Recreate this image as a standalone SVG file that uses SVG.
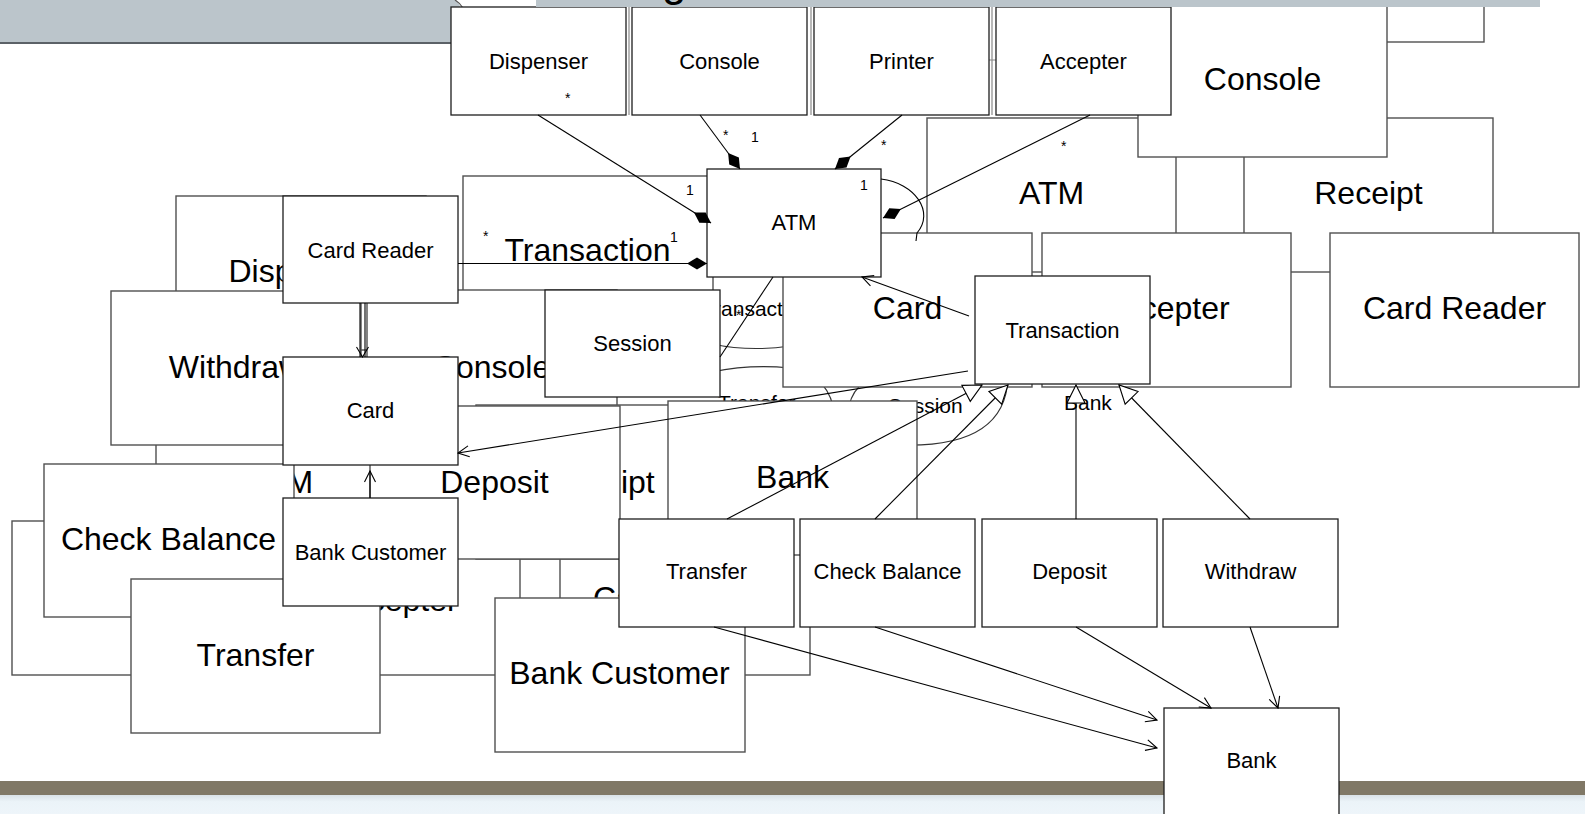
<svg xmlns="http://www.w3.org/2000/svg" width="1585" height="814" viewBox="0 0 1585 814">
  <style>
    .s { fill: #fff; stroke: #1e1e1e; stroke-width: 1.3; }
    .L { fill: #fff; stroke: #505050; stroke-width: 1.4; }
    text { font-family: "Liberation Sans", Arial, sans-serif; fill: #000; }
    .ts { font-size: 22px; text-anchor: middle; }
    .tl { font-size: 32px; text-anchor: middle; }
    .lbl { font-size: 21px; }
    .m { font-size: 14px; }
    .c { fill: none; stroke: #000; stroke-width: 1.1; }
    .bg { fill: none; stroke: #333; stroke-width: 1.1; }
    .faint { fill: none; stroke: #8a8a8a; stroke-width: 1.2; }
  </style>
  <defs>
    <marker id="arrow" viewBox="-13 -7 14 14" refX="0" refY="0" markerWidth="14" markerHeight="14" markerUnits="userSpaceOnUse" orient="auto">
      <path d="M-11,-5.5 L0,0 L-11,5.5" fill="none" stroke="#000" stroke-width="1.1"/>
    </marker>
    <marker id="diamond" viewBox="-21 -7 22 14" refX="0" refY="0" markerWidth="22" markerHeight="14" markerUnits="userSpaceOnUse" orient="auto">
      <path d="M0,0 L-10,-6 L-20,0 L-10,6 Z" fill="#000"/>
    </marker>
    <marker id="tri" viewBox="-20 -11 21 22" refX="0" refY="0" markerWidth="21" markerHeight="22" markerUnits="userSpaceOnUse" orient="auto">
      <path d="M0,0 L-18,-9 L-18,9 Z" fill="#fff" stroke="#000" stroke-width="1.1"/>
    </marker>
    <linearGradient id="foot" x1="0" y1="0" x2="0" y2="1">
      <stop offset="0" stop-color="#d9e1e6"/>
      <stop offset="0.35" stop-color="#ebf3f8"/>
      <stop offset="1" stop-color="#eef5fa"/>
    </linearGradient>
  </defs>

  <rect x="0" y="0" width="1585" height="814" fill="#fff"/>

  <!-- slide header tab on the left -->
  <g id="header-tab">
    <path d="M0,0 H455 Q462,6 466,20 L466,43 H0 Z" fill="#bbc5cb"/>
    <path d="M0,43 H466" stroke="#5b6167" stroke-width="2"/>
    <path d="M455,0 Q460,3 463,8" fill="none" stroke="#555" stroke-width="1.2"/>
  </g>

  <!-- slide footer bands -->
  <g id="footer">
    <rect x="0" y="781" width="1585" height="14" fill="#807866"/>
    <rect x="0" y="795" width="1585" height="19" fill="url(#foot)"/>
  </g>

  <!-- background diagram: labels and arcs that sit behind its boxes -->
  <g id="bg-labels">
    <text class="lbl" x="702" y="316">Transaction</text>
    <text class="lbl" x="718" y="410">Transfer</text>
    <text class="lbl" x="888" y="413">Session</text>
    <text class="lbl" x="1064" y="410">Bank</text>
  </g>
  <g id="bg-connectors">
    <path class="bg" d="M712,344 Q750,352 790,346"/>
    <path class="bg" d="M712,372 Q750,364 790,368"/>
    <path class="bg" d="M816,378 Q829,389 833,406"/>
    <path class="bg" d="M849,406 Q852,391 866,380"/>
    <path class="bg" d="M900,445 C962,447 1006,430 1008,378"/>
    <path class="faint" d="M629,7 V115 M811,7 V115 M992,7 V115 M989,60 H996"/>
  </g>

  <!-- background diagram: large boxes, right part -->
  <g id="bg-atm"><rect class="L" x="927" y="118" width="249" height="154"/><text class="tl" x="1051.5" y="204">ATM</text></g>
  <g id="bg-receipt"><rect class="L" x="1244" y="118" width="249" height="154"/><text class="tl" x="1368.5" y="204">Receipt</text></g>
  <g id="bg-corner"><rect class="L" x="1235" y="-112" width="249" height="154"/></g>
  <g id="bg-console"><rect class="L" x="1138" y="3" width="249" height="154"/><text class="tl" x="1262.5" y="90">Console</text></g>
  <g id="bg-card"><rect class="L" x="783" y="233" width="249" height="154"/><text class="tl" x="907.5" y="319">Card</text></g>
  <g id="bg-accepter"><rect class="L" x="1042" y="233" width="249" height="154"/><text class="tl" x="1166.5" y="319">Accepter</text></g>
  <g id="bg-card-reader"><rect class="L" x="1330" y="233" width="249" height="154"/><text class="tl" x="1454.5" y="319">Card Reader</text></g>

  <!-- background diagram: large boxes, left part -->
  <g id="bg-left-edge"><rect class="L" x="12" y="521" width="250" height="154"/></g>
  <g id="bg-accepter-2"><rect class="L" x="270" y="521" width="250" height="154"/><text class="tl" x="394.5" y="611">Accepter</text></g>
  <g id="bg-card-reader-2"><rect class="L" x="560" y="521" width="250" height="154"/><text class="tl" x="684.5" y="609">Card Reader</text></g>
  <g id="bg-atm-2"><rect class="L" x="156" y="405" width="250" height="154"/><text class="tl" x="280.5" y="493">ATM</text></g>
  <g id="bg-dispenser"><rect class="L" x="176" y="196" width="250" height="154"/><text class="tl" x="300.5" y="282">Dispenser</text></g>
  <g id="bg-transaction"><rect class="L" x="463" y="176" width="250" height="154"/><text class="tl" x="587.5" y="261">Transaction</text></g>
  <g id="bg-withdraw"><rect class="L" x="111" y="291" width="250" height="154"/><text class="tl" x="235.5" y="378">Withdraw</text></g>
  <g id="bg-console-2"><rect class="L" x="367" y="290" width="250" height="154"/><text class="tl" x="491.5" y="378">Console</text></g>
  <g id="bg-receipt-2"><rect class="L" x="476" y="405" width="250" height="154"/><text class="tl" x="600.5" y="493">Receipt</text></g>
  <g id="bg-deposit"><rect class="L" x="370" y="406" width="250" height="153"/><text class="tl" x="494.5" y="493">Deposit</text></g>
  <g id="bg-bank"><rect class="L" x="668" y="401" width="249" height="154"/><text class="tl" x="792.5" y="488">Bank</text></g>
  <g id="bg-check-balance"><rect class="L" x="44" y="464" width="250" height="153"/><text class="tl" x="168.5" y="550">Check Balance</text></g>
  <g id="bg-transfer"><rect class="L" x="131" y="579" width="249" height="154"/><text class="tl" x="255.5" y="666">Transfer</text></g>
  <g id="bg-bank-customer"><rect class="L" x="495" y="598" width="250" height="154"/><text class="tl" x="619.5" y="684">Bank Customer</text></g>

  <!-- class nodes -->
  <g id="dispenser"><rect class="s" x="451" y="7" width="175" height="108"/><text class="ts" x="538.5" y="69">Dispenser</text></g>
  <g id="console"><rect class="s" x="632" y="7" width="175" height="108"/><text class="ts" x="719.5" y="69">Console</text></g>
  <g id="printer"><rect class="s" x="814" y="7" width="175" height="108"/><text class="ts" x="901.5" y="69">Printer</text></g>
  <g id="accepter"><rect class="s" x="996" y="7" width="175" height="108"/><text class="ts" x="1083.5" y="69">Accepter</text></g>
  <g id="atm"><rect class="s" x="707" y="169" width="174" height="108"/><text class="ts" x="794" y="230">ATM</text></g>
  <g id="card-reader"><rect class="s" x="283" y="196" width="175" height="107"/><text class="ts" x="370.5" y="258">Card Reader</text></g>
  <g id="session"><rect class="s" x="545" y="290" width="175" height="107"/><text class="ts" x="632.5" y="351">Session</text></g>
  <g id="card"><rect class="s" x="283" y="357" width="175" height="108"/><text class="ts" x="370.5" y="418">Card</text></g>
  <g id="transaction"><rect class="s" x="975" y="276" width="175" height="108"/><text class="ts" x="1062.5" y="338">Transaction</text></g>
  <g id="bank-customer"><rect class="s" x="283" y="498" width="175" height="108"/><text class="ts" x="370.5" y="560">Bank Customer</text></g>
  <g id="transfer"><rect class="s" x="619" y="519" width="175" height="108"/><text class="ts" x="706.5" y="579">Transfer</text></g>
  <g id="check-balance"><rect class="s" x="800" y="519" width="175" height="108"/><text class="ts" x="887.5" y="579">Check Balance</text></g>
  <g id="deposit"><rect class="s" x="982" y="519" width="175" height="108"/><text class="ts" x="1069.5" y="579">Deposit</text></g>
  <g id="withdraw"><rect class="s" x="1163" y="519" width="175" height="108"/><text class="ts" x="1250.5" y="579">Withdraw</text></g>
  <g id="bank"><rect class="s" x="1164" y="708" width="175" height="120"/><text class="ts" x="1251.5" y="768">Bank</text></g>

  <!-- associations, compositions and generalizations -->
  <g id="connectors">
    <path class="c" d="M538,115 L711,223" marker-end="url(#diamond)"/>
    <path class="c" d="M700,115 L740,169" marker-end="url(#diamond)"/>
    <path class="c" d="M902,115 L835,169" marker-end="url(#diamond)"/>
    <path class="c" d="M1090,115 L883,218" marker-end="url(#diamond)"/>
    <path class="c" d="M458,263.5 L707,263.5" marker-end="url(#diamond)"/>
    <path class="c" d="M881,179 C915,183 935,212 917,233 L916,241"/>

    <path class="c" d="M360,303 V357 M365,303 V357"/>
    <path class="c" d="M356.5,347 L362.5,357 L368.5,347"/>
    <path class="c" d="M370,498 L370,471" marker-end="url(#arrow)"/>
    <path class="c" d="M968,371 L458,453" marker-end="url(#arrow)"/>
    <path class="c" d="M969,316 L862,277" marker-end="url(#arrow)"/>
    <path class="c" d="M773,277 L720,357"/>

    <path class="c" d="M727,519 L982,385" marker-end="url(#tri)"/>
    <path class="c" d="M875,519 L1008,385" marker-end="url(#tri)"/>
    <path class="c" d="M1076,519 L1076,385" marker-end="url(#tri)"/>
    <path class="c" d="M1250,519 L1119,385" marker-end="url(#tri)"/>

    <path class="c" d="M714,627 L1157,748" marker-end="url(#arrow)"/>
    <path class="c" d="M875,627 L1157,720" marker-end="url(#arrow)"/>
    <path class="c" d="M1076,627 L1211,708" marker-end="url(#arrow)"/>
    <path class="c" d="M1250,627 L1278,708" marker-end="url(#arrow)"/>

    <g id="multiplicities">
      <text class="m" x="565" y="103">*</text>
      <text class="m" x="723" y="140">*</text>
      <text class="m" x="751" y="142">1</text>
      <text class="m" x="881" y="150">*</text>
      <text class="m" x="1061" y="151">*</text>
      <text class="m" x="686" y="195">1</text>
      <text class="m" x="860" y="190">1</text>
      <text class="m" x="483" y="241">*</text>
      <text class="m" x="670" y="242">1</text>
      <text class="m" x="736" y="320">*</text>
    </g>
  </g>

  <!-- slide header band and title remnant -->
  <g id="header-band">
    <rect x="536" y="0" width="1004" height="7" fill="#bbc5cb"/>
    <text x="662" y="-4" font-family="'Liberation Serif', serif" font-size="44" fill="#6f7c85">g</text>
  </g>
</svg>
